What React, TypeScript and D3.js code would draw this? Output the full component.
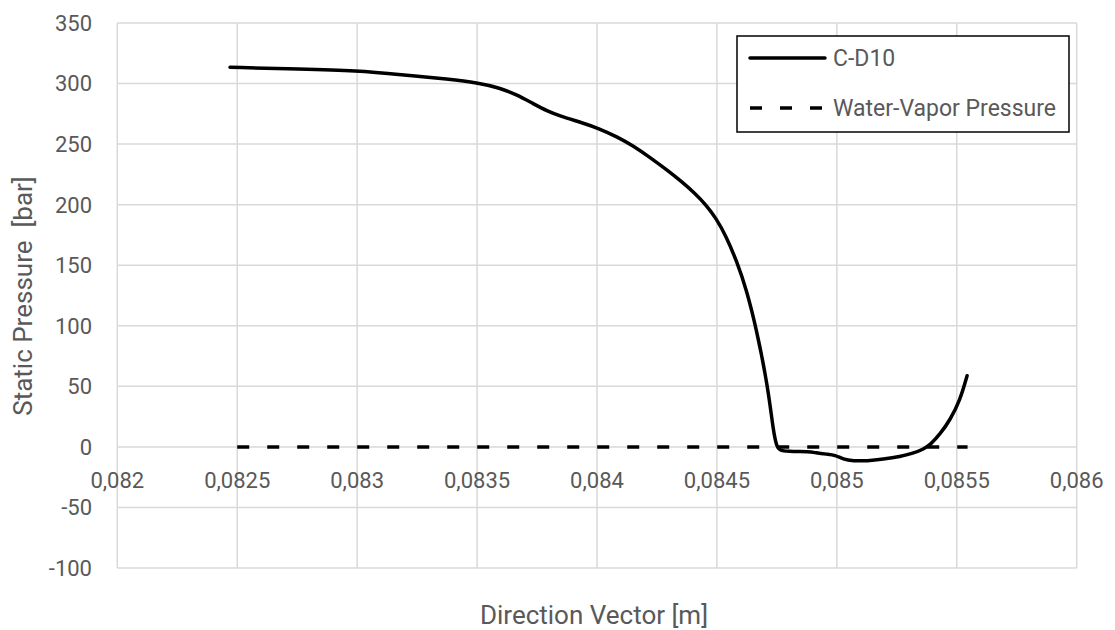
import React from "react";
import * as d3 from "d3";

const cd10X = [0.08247, 0.082762, 0.083, 0.083179, 0.083387, 0.0835, 0.083596, 0.083667, 0.083733, 0.083792, 0.083846, 0.083942, 0.084005, 0.084084, 0.084151, 0.084221, 0.084292, 0.084355, 0.084409, 0.084455, 0.084497, 0.084538, 0.084584, 0.084622, 0.084663, 0.084713, 0.084736, 0.08475, 0.084759, 0.084793, 0.084888, 0.084909, 0.084959, 0.084993, 0.085026, 0.085068, 0.085126, 0.085193, 0.085264, 0.085318, 0.08536, 0.085389, 0.085431, 0.085472, 0.085514, 0.085543];
const cd10Y = [313.4, 312.0, 310.6, 307.5, 303.5, 300.7, 296.4, 290.6, 283.5, 277.4, 273.2, 267.4, 263.1, 256.1, 248.5, 239.0, 228.6, 218.7, 209.2, 199.7, 188.6, 174.1, 152.6, 130.4, 99.0, 49.5, 11.2, 0.2, -2.6, -3.9, -3.9, -4.8, -6.1, -6.7, -10.2, -11.6, -11.6, -10.2, -8.1, -5.3, -2.0, 1.6, 10.7, 22.2, 38.7, 58.8];
const vaporX = [0.0825, 0.085545];
const vaporY = [0, 0];

const xTicks = [0.082, 0.0825, 0.083, 0.0835, 0.084, 0.0845, 0.085, 0.0855, 0.086];
const yTicks = [-100, -50, 0, 50, 100, 150, 200, 250, 300, 350];
const seriesNames = ["C-D10", "Water-Vapor Pressure"];

const W = 1115;
const H = 630;
const FONT = "Roboto, 'Noto Sans', sans-serif";
const TXT = "#595959";
const GRID = "#d9d9d9";

export default function App() {
  const x = d3.scaleLinear().domain([0.082, 0.086]).range([117.3, 1076.7]);
  const y = d3.scaleLinear().domain([-100, 350]).range([568, 23]);
  const smooth = d3
    .line<[number, number]>()
    .x((d) => x(d[0]))
    .y((d) => y(d[1]))
    .curve(d3.curveBasis);
  const straight = d3
    .line<[number, number]>()
    .x((d) => x(d[0]))
    .y((d) => y(d[1]));
  const cdPts: [number, number][] = cd10X.map((v, i) => [v, cd10Y[i]]);
  const vpPts: [number, number][] = vaporX.map((v, i) => [v, vaporY[i]]);
  const fmtX = (v: number) => String(+v.toFixed(4)).replace(".", ",");

  return (
    <svg
      width={W}
      height={H}
      style={{ position: "absolute", left: 0, top: 0, display: "block", background: "#fff" }}
    >
      <rect x={0} y={0} width={W} height={H} fill="#fff" />
      {xTicks.map((t) => (
        <line key={"vx" + t} x1={x(t)} x2={x(t)} y1={y(-100)} y2={y(350)} stroke={GRID} strokeWidth={1.5} />
      ))}
      {yTicks.map((t) => (
        <line key={"hy" + t} x1={x(0.082)} x2={x(0.086)} y1={y(t)} y2={y(t)} stroke={GRID} strokeWidth={1.5} />
      ))}
      {yTicks.map((t) => (
        <text key={"ty" + t} x={92} y={y(t)} dy="0.36em" textAnchor="end" fontFamily={FONT} fontSize={22} fill={TXT}>
          {t}
        </text>
      ))}
      {xTicks.map((t) => (
        <text key={"tx" + t} x={x(t)} y={y(0) + 41} textAnchor="middle" fontFamily={FONT} fontSize={22} fill={TXT}>
          {fmtX(t)}
        </text>
      ))}
      <path d={straight(vpPts) || ""} fill="none" stroke="#000" strokeWidth={3.5} strokeDasharray="12 18" />
      <path d={smooth(cdPts) || ""} fill="none" stroke="#000" strokeWidth={3.5} strokeLinejoin="round" strokeLinecap="round" />
      <text
        x={0}
        y={0}
        transform={`translate(32,${296}) rotate(-90)`}
        textAnchor="middle"
        fontFamily={FONT}
        fontSize={26}
        fill={TXT}
        style={{ whiteSpace: "pre" }}
      >
        {"Static Pressure  [bar]"}
      </text>
      <text x={594} y={624} textAnchor="middle" fontFamily={FONT} fontSize={26} fill={TXT}>
        Direction Vector [m]
      </text>
      <g>
        <rect x={737} y={36} width={332} height={96} fill="#fff" stroke="#000" strokeWidth={1.5} />
        <line x1={750} x2={825} y1={58} y2={58} stroke="#000" strokeWidth={3.5} strokeLinecap="round" />
        <line x1={750} x2={825} y1={108} y2={108} stroke="#000" strokeWidth={3.5} strokeDasharray="12 18" />
        <text x={833} y={58} dy="0.36em" fontFamily={FONT} fontSize={23} fill={TXT}>
          {seriesNames[0]}
        </text>
        <text x={833} y={108} dy="0.36em" fontFamily={FONT} fontSize={23} fill={TXT}>
          {seriesNames[1]}
        </text>
      </g>
    </svg>
  );
}
